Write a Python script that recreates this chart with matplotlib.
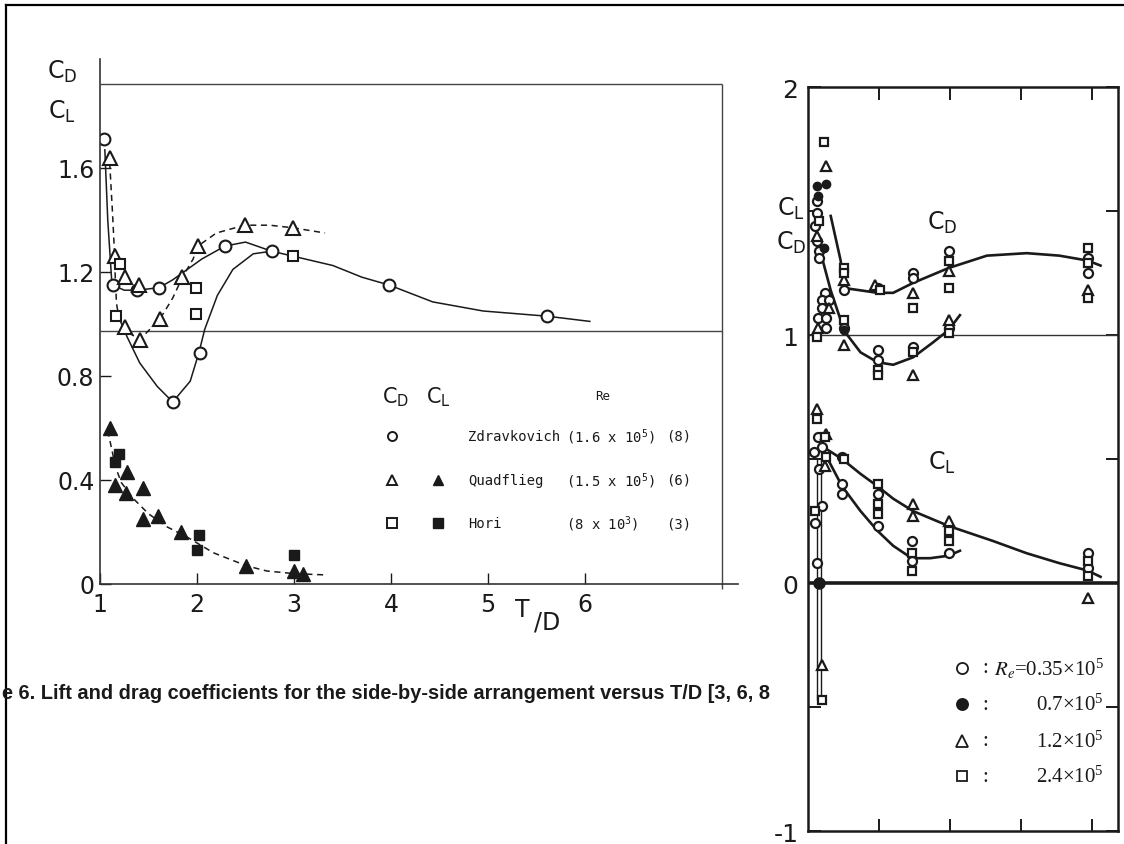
import matplotlib
matplotlib.use("Agg")
import matplotlib.pyplot as plt
from matplotlib.lines import Line2D

plt.rcParams['mathtext.default'] = 'regular'

W, H = 1124, 845
INK = '#1a1a1a'
NARROW = ['DejaVu Sans']

# ---------------- Left chart: data (T/D, coefficient) ----------------
zdr_cd_x = [1.04, 1.13, 1.38, 1.61, 2.29, 2.77, 3.98, 5.61, 1.75, 2.03]
zdr_cd_y = [1.71, 1.15, 1.13, 1.14, 1.30, 1.28, 1.15, 1.03, 0.70, 0.89]

qua_cd_x = [1.10, 1.15, 1.26, 1.40, 1.85, 2.01, 2.49, 2.99, 1.26, 1.41, 1.62]
qua_cd_y = [1.64, 1.26, 1.18, 1.15, 1.18, 1.30, 1.38, 1.37, 0.99, 0.94, 1.02]

hori_cd_x = [1.21, 1.17, 1.99, 1.99, 2.99]
hori_cd_y = [1.23, 1.03, 1.14, 1.04, 1.26]

qua_cl_x = [1.10, 1.28, 1.15, 1.27, 1.44, 1.44, 1.60, 1.84, 2.51, 3.00, 3.09]
qua_cl_y = [0.60, 0.43, 0.38, 0.35, 0.37, 0.25, 0.26, 0.20, 0.07, 0.05, 0.04]

hori_cl_x = [1.15, 1.20, 2.02, 2.00, 3.00]
hori_cl_y = [0.47, 0.50, 0.19, 0.13, 0.11]

# faired curves of the left chart
zdr_steep_x = [1.05, 1.08, 1.12]
zdr_steep_y = [1.67, 1.40, 1.17]
zdr_upper_x = [1.13, 1.25, 1.38, 1.50, 1.61, 1.75, 1.90, 2.05, 2.29, 2.50,
               2.77, 3.00, 3.40, 3.70, 3.98, 4.43, 4.95, 5.61, 6.05]
zdr_upper_y = [1.15, 1.13, 1.13, 1.135, 1.14, 1.17, 1.21, 1.25, 1.30, 1.315,
               1.28, 1.26, 1.225, 1.18, 1.15, 1.085, 1.05, 1.03, 1.01]
zdr_lower_x = [1.20, 1.28, 1.41, 1.59, 1.75, 1.93, 2.02, 2.08, 2.21, 2.37, 2.58, 2.77]
zdr_lower_y = [1.02, 0.95, 0.85, 0.76, 0.70, 0.78, 0.89, 0.98, 1.11, 1.21, 1.27, 1.28]

qua_steep_x = [1.10, 1.13, 1.15]
qua_steep_y = [1.62, 1.42, 1.27]
qua_curve_x = [1.15, 1.17, 1.20, 1.28, 1.41, 1.62, 1.75, 1.85, 1.96, 2.01,
               2.20, 2.49, 2.75, 2.99, 3.32]
qua_curve_y = [1.24, 1.08, 1.01, 0.97, 0.94, 1.02, 1.10, 1.18, 1.25, 1.30,
               1.35, 1.38, 1.38, 1.37, 1.35]

cl_curve_x = [1.08, 1.12, 1.16, 1.22, 1.34, 1.50, 1.69, 1.90, 2.17, 2.51, 2.72, 3.00, 3.32]
cl_curve_y = [0.59, 0.52, 0.45, 0.39, 0.33, 0.27, 0.22, 0.18, 0.12, 0.07, 0.05, 0.04, 0.035]

left_xticks = [1, 2, 3, 4, 5, 6]
left_yticks = [0, 0.4, 0.8, 1.2, 1.6]
left_yticklabels = ['0', '0.4', '0.8', '1.2', '1.6']

# ---------------- Right chart: data ----------------
circ_x = [1.06, 1.06, 1.05, 1.06, 1.08, 1.08, 1.12, 1.10, 1.15, 1.10, 1.07, 1.13, 1.13,
          1.25, 1.25, 1.49, 1.49, 1.49, 1.74, 1.74, 1.74, 1.99, 1.99, 2.97, 2.97,
          1.07, 1.04, 1.10, 1.08, 1.10, 1.05, 1.06, 1.24, 1.24, 1.24, 1.49, 1.49,
          1.73, 1.73, 1.99, 2.97, 2.97]
circ_y = [1.54, 1.49, 1.44, 1.38, 1.34, 1.31, 1.17, 1.14, 1.14, 1.11, 1.07, 1.07, 1.03,
          1.18, 1.03, 1.19, 0.94, 0.90, 1.25, 1.23, 0.95, 1.34, 1.03, 1.31, 1.25,
          0.59, 0.53, 0.55, 0.46, 0.31, 0.24, 0.08, 0.51, 0.40, 0.36, 0.36, 0.23,
          0.17, 0.09, 0.12, 0.12, 0.06]

fill_x = [1.13, 1.06, 1.07, 1.11, 1.25]
fill_y = [1.61, 1.60, 1.56, 1.35, 1.02]
fill_zero_x = [1.08]
fill_zero_y = [0.0]

tri_x = [1.13, 1.06, 1.15, 1.07, 1.25, 1.25, 1.47, 1.74, 1.74, 1.99, 1.99, 2.97,
         1.06, 1.13, 1.12, 1.74, 1.74, 1.99, 2.97, 1.10]
tri_y = [1.68, 1.40, 1.11, 1.03, 1.22, 0.96, 1.20, 1.17, 0.84, 1.26, 1.06, 1.18,
         0.70, 0.60, 0.47, 0.32, 0.27, 0.25, -0.06, -0.33]

sq_x = [1.11, 1.08, 1.06, 1.25, 1.25, 1.25, 1.51, 1.49, 1.49, 1.74, 1.74, 1.99, 1.99, 1.99,
        2.97, 2.97, 2.97, 1.06, 1.12, 1.13, 1.05, 1.25, 1.49, 1.49, 1.49, 1.73, 1.73,
        1.99, 1.99, 2.97, 2.97, 1.10]
sq_y = [1.78, 1.46, 0.99, 1.27, 1.25, 1.06, 1.18, 0.86, 0.84, 1.11, 0.93, 1.30, 1.19, 1.01,
        1.35, 1.29, 1.15, 0.66, 0.59, 0.51, 0.29, 0.50, 0.40, 0.32, 0.28, 0.12, 0.05,
        0.21, 0.17, 0.09, 0.03, -0.47]

cd_up_x = [1.16, 1.23, 1.25, 1.37, 1.49, 1.60, 1.74, 1.99, 2.26, 2.54, 2.77, 2.97, 3.06]
cd_up_y = [1.48, 1.30, 1.19, 1.18, 1.17, 1.17, 1.21, 1.27, 1.32, 1.33, 1.32, 1.30, 1.28]
cd_lo_x = [1.09, 1.16, 1.23, 1.25, 1.37, 1.49, 1.60, 1.74, 1.88, 1.99, 2.07]
cd_lo_y = [1.33, 1.18, 1.06, 1.02, 0.93, 0.89, 0.88, 0.91, 0.97, 1.02, 1.08]
cl_up_x = [1.13, 1.24, 1.37, 1.49, 1.60, 1.74, 1.99, 2.30, 2.54, 2.77, 2.97, 3.06]
cl_up_y = [0.54, 0.50, 0.44, 0.39, 0.34, 0.29, 0.23, 0.17, 0.12, 0.08, 0.05, 0.025]
cl_lo_x = [1.13, 1.24, 1.37, 1.49, 1.60, 1.73, 1.86, 1.99, 2.07]
cl_lo_y = [0.51, 0.39, 0.29, 0.21, 0.15, 0.10, 0.10, 0.11, 0.13]

right_xticks = [1.5, 2.0, 2.5, 3.0]
right_yticks = [-1, 0, 1, 2]
right_yticklabels = ['-1', '0', '1', '2']
right_yminor = [-0.5, 0.5, 1.5]

legend_right = [r'$\mathit{R}_{\mathit{e}}$=0.35$\times$10$^5$', r'0.7$\times$10$^5$',
                r'1.2$\times$10$^5$', r'2.4$\times$10$^5$']

caption = 'e 6. Lift and drag coefficients for the side-by-side arrangement versus T/D [3, 6, 8'

# ---------------------------------------------------------------------
fig = plt.figure(figsize=(W / 100, H / 100), dpi=100)
fig.patch.set_facecolor('white')


def fx(px):
    return px / W


def fy(py):
    return 1 - py / H


def ftext(px, py, s, **kw):
    kw.setdefault('color', INK)
    fig.text(fx(px), fy(py), s, **kw)


# outer border
fig.add_artist(Line2D([fx(6), fx(6)], [fy(6), 0], color='black', lw=1.6))
fig.add_artist(Line2D([fx(6), 1], [fy(6), fy(6)], color='black', lw=1.6))

# ---------------- left chart ----------------
L0, R0, B0, T0 = 100, 738, 585, 60
axL = fig.add_axes([fx(L0), fy(B0), fx(R0) - fx(L0), fy(T0) - fy(B0)])
axL.set_xlim(1, 1 + (R0 - L0) / 97.0)
axL.set_ylim(0, (B0 - T0) / 260.0)
for s in ['top', 'right']:
    axL.spines[s].set_visible(False)
for s in ['left', 'bottom']:
    axL.spines[s].set_linewidth(1.2)
    axL.spines[s].set_color('#333333')
axL.set_facecolor('none')
axL.set_xticks(left_xticks)
axL.set_xticklabels([str(t) for t in left_xticks])
axL.set_yticks(left_yticks)
axL.set_yticklabels(left_yticklabels)
axL.tick_params(axis='x', direction='in', length=8, width=1, pad=6, colors=INK,
                labelsize=17)
axL.tick_params(axis='y', direction='in', length=8, width=1, pad=4, colors=INK,
                labelsize=17)
for lab in axL.get_xticklabels() + axL.get_yticklabels():
    lab.set_family(NARROW)

# frame lines of the left chart
xr = 1 + (722 - L0) / 97.0
axL.hlines(1.925, 1, xr, color='#444444', lw=1.0)
axL.hlines(0.975, 1, xr, color='#444444', lw=1.0)
axL.vlines(xr, -0.02, 1.925, color='#444444', lw=1.0, clip_on=False)

lkw = dict(color=INK, lw=1.1)
axL.plot(zdr_steep_x, zdr_steep_y, '-', **lkw)
axL.plot(zdr_upper_x, zdr_upper_y, '-', **lkw)
axL.plot(zdr_lower_x, zdr_lower_y, '-', **lkw)
axL.plot(qua_steep_x, qua_steep_y, '--', dashes=(4, 3), **lkw)
axL.plot(qua_curve_x, qua_curve_y, '--', dashes=(4, 3), **lkw)
axL.plot(cl_curve_x, cl_curve_y, '--', dashes=(4, 3), **lkw)

okw = dict(ls='none', mfc='white', mec=INK, mew=1.5)
axL.plot(zdr_cd_x, zdr_cd_y, marker='o', ms=8.5, **okw)
axL.plot(qua_cd_x, qua_cd_y, marker='^', ms=9.5, **okw)
axL.plot(hori_cd_x, hori_cd_y, marker='s', ms=6.5, **okw)
axL.plot(qua_cl_x, qua_cl_y, marker='^', ms=9.5, ls='none', color=INK)
axL.plot(hori_cl_x, hori_cl_y, marker='s', ms=7, ls='none', color=INK)

# labels of the left chart
ftext(62, 72, 'C$_D$', fontsize=17, family=NARROW, ha='center', va='center')
ftext(62, 112, 'C$_L$', fontsize=17, family=NARROW, ha='center', va='center')
ftext(522, 610, 'T', fontsize=17, family=NARROW, ha='center', va='center')
ftext(547, 623, '/D', fontsize=17, family=NARROW, ha='center', va='center')

# legend of the left chart
ftext(396, 397, 'C$_D$', fontsize=15, family=NARROW, ha='center', va='center')
ftext(438, 397, 'C$_L$', fontsize=15, family=NARROW, ha='center', va='center')
ftext(603, 397, 'Re', fontsize=9, family='DejaVu Sans Mono', ha='center', va='center')
rows = [437, 481, 524]
leg_open = ['o', '^', 's']
leg_fill = [None, '^', 's']
leg_name = ['Zdravkovich', 'Quadflieg', 'Hori']
leg_re = [r'(1.6 x 10$^5$)', r'(1.5 x 10$^5$)', r'(8 x 10$^3$)']
leg_ref = ['(8)', '(6)', '(3)']
for ry, mo, mf, nm, re_, rf in zip(rows, leg_open, leg_fill, leg_name, leg_re, leg_ref):
    fig.add_artist(Line2D([fx(392)], [fy(ry)], marker=mo, ms=6.5, mfc='white',
                          mec=INK, mew=1.4, ls='none'))
    if mf:
        fig.add_artist(Line2D([fx(438)], [fy(ry)], marker=mf, ms=6.5, color=INK,
                              ls='none'))
    ftext(468, ry, nm, fontsize=10, family='DejaVu Sans Mono', va='center')
    ftext(566, ry, re_, fontsize=10, family='DejaVu Sans Mono', va='center')
    ftext(666, ry, rf, fontsize=10, family='DejaVu Sans Mono', va='center')

# caption
ftext(2, 694, caption, fontsize=14.4, weight='bold', family=['Liberation Sans', 'DejaVu Sans'],
      va='center', ha='left')

# ---------------- right chart ----------------
L1, R1, B1, T1 = 808, 1118, 832, 88
axR = fig.add_axes([fx(L1), fy(B1), fx(R1) - fx(L1), fy(T1) - fy(B1)])
axR.set_xlim(1, 1 + (R1 - L1) / 142.0)
axR.set_ylim(-1, 2)
axR.set_facecolor('none')
for s in axR.spines.values():
    s.set_linewidth(1.8)
    s.set_color(INK)
axR.set_xticks(right_xticks)
axR.set_xticklabels([])
axR.set_yticks(right_yticks)
axR.set_yticklabels(right_yticklabels)
axR.set_yticks(right_yminor, minor=True)
axR.tick_params(axis='both', which='both', direction='in', length=9, width=1.4,
                top=True, right=True, colors=INK, labelsize=18, pad=7)
for lab in axR.get_yticklabels():
    lab.set_family(NARROW)

axR.axhline(1.0, color='#333333', lw=1.0)
axR.axhline(0.0, color=INK, lw=2.6)

rkw = dict(color=INK, lw=1.9)
axR.plot(cd_up_x, cd_up_y, '-', **rkw)
axR.plot(cd_lo_x, cd_lo_y, '-', **rkw)
axR.plot(cl_up_x, cl_up_y, '-', **rkw)
axR.plot(cl_lo_x, cl_lo_y, '-', **rkw)
axR.vlines([fill_zero_x[0] - 0.015, fill_zero_x[0] + 0.015], -0.47, 0.50, color=INK, lw=1.0)

rok = dict(ls='none', mfc='white', mec=INK, mew=1.6)
axR.plot(circ_x, circ_y, marker='o', ms=6.5, **rok)
axR.plot(tri_x, tri_y, marker='^', ms=6.5, **rok)
axR.plot(sq_x, sq_y, marker='s', ms=5.5, **rok)
axR.plot(fill_x, fill_y, marker='o', ms=6, ls='none', color=INK)
axR.plot(fill_zero_x, fill_zero_y, marker='o', ms=8, ls='none', color=INK)

ftext(791, 209, 'C$_L$', fontsize=17, family=NARROW, ha='center', va='center')
ftext(791, 243, 'C$_D$', fontsize=17, family=NARROW, ha='center', va='center')
ftext(942, 223, 'C$_D$', fontsize=17, family=NARROW, ha='center', va='center')
ftext(942, 463, 'C$_L$', fontsize=17, family=NARROW, ha='center', va='center')

leg_rows = [669, 705, 742, 777]
leg_mk = [('o', 'white'), ('o', INK), ('^', 'white'), ('s', 'white')]
for ry, (mk, fc), txt in zip(leg_rows, leg_mk, legend_right):
    fig.add_artist(Line2D([fx(962)], [fy(ry)], marker=mk, ms=8 if mk != 's' else 6.5,
                          mfc=fc, mec=INK, mew=1.3, ls='none'))
    ftext(985, ry, ':', fontsize=15, family='Liberation Serif', ha='center', va='center')
    ftext(1104, ry, txt, fontsize=15, family='Liberation Serif', ha='right', va='center',
          math_fontfamily='stix')

fig.savefig('out.png', dpi=100, facecolor='white')
